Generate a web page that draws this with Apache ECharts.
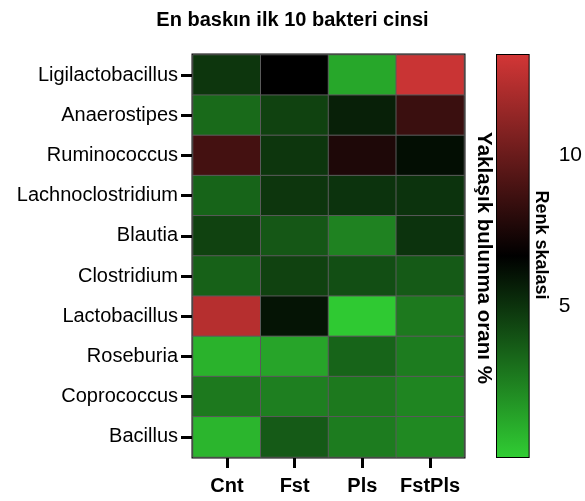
<!DOCTYPE html>
<html><head><meta charset="utf-8">
<script src="https://cdn.jsdelivr.net/npm/echarts@6/dist/echarts.min.js"></script>
<style>html,body{margin:0;padding:0;background:#fff}#c{width:585px;height:501px}</style>
</head><body><div id="c"></div>
<script>
var groups = ['Cnt', 'Fst', 'Pls', 'FstPls'];
var genera = ['Ligilactobacillus', 'Anaerostipes', 'Ruminococcus', 'Lachnoclostridium', 'Blautia', 'Clostridium', 'Lactobacillus', 'Roseburia', 'Coprococcus', 'Bacillus'];
// values per genus, in order Cnt, Fst, Pls, FstPls
var Ligilactobacillus = [4.9, 6.65, 1.2, 13.0];
var Anaerostipes = [3.2, 4.5, 5.6, 8.5];
var Ruminococcus = [8.8, 4.9, 7.6, 6.2];
var Lachnoclostridium = [3.4, 4.9, 5.0, 5.0];
var Blautia = [4.5, 3.8, 2.4, 5.0];
var Clostridium = [3.5, 4.5, 4.1, 3.7];
var Lactobacillus = [12.4, 6.0, 0.1, 2.7];
var Roseburia = [0.85, 1.3, 3.4, 2.6];
var Coprococcus = [2.7, 2.5, 2.7, 2.3];
var Bacillus = [0.75, 3.7, 2.6, 2.2];
var scaleMin = 0, scaleMax = 13.3;
var scaleTicks = [5, 10];

var rows = [Ligilactobacillus, Anaerostipes, Ruminococcus, Lachnoclostridium, Blautia, Clostridium, Lactobacillus, Roseburia, Coprococcus, Bacillus];
var data = [];
rows.forEach(function (r, i) { r.forEach(function (v, j) { data.push([j, i, v]); }); });

var GREEN = '#30cc33', BLACK = '#000000', RED = '#d23636';
var font = 'Liberation Sans, Arial, sans-serif';
var chart = echarts.init(document.getElementById('c'), null, {renderer: 'canvas'});
chart.setOption({
  backgroundColor: '#fff',
  animation: false,
  title: {text: 'En baskın ilk 10 bakteri cinsi', left: 'center', top: 5,
    textStyle: {fontFamily: font, fontWeight: 'bold', fontSize: 20, color: '#000'}},
  grid: [
    {left: 193, right: 121, top: 55, bottom: 44, show: true, borderColor: '#000', borderWidth: 3, backgroundColor: 'transparent'},
    {left: 497, right: 54, top: 55, bottom: 44, show: true, borderColor: '#000', borderWidth: 2, backgroundColor: 'transparent'}
  ],
  xAxis: [
    {type: 'category', data: groups, gridIndex: 0, position: 'bottom',
      axisLine: {show: false},
      axisTick: {show: true, alignWithLabel: true, length: 11, lineStyle: {color: '#000', width: 3}},
      axisLabel: {interval: 0, fontFamily: font, fontWeight: 'bold', fontSize: 20, color: '#000', margin: 19},
      splitLine: {show: false}},
    {type: 'category', data: ['s'], gridIndex: 1, show: false}
  ],
  yAxis: [
    {type: 'category', data: genera, gridIndex: 0, inverse: true,
      axisLine: {show: false},
      axisTick: {show: true, alignWithLabel: true, length: 12, lineStyle: {color: '#000', width: 3}},
      axisLabel: {interval: 0, fontFamily: font, fontSize: 20, color: '#000', margin: 15},
      splitLine: {show: false}},
    {type: 'value', gridIndex: 1, min: scaleMin, max: scaleMax, interval: 5, position: 'left',
      axisLine: {show: false}, axisLabel: {show: false}, splitLine: {show: false},
      axisTick: {show: true, inside: true, length: 6, lineStyle: {color: '#000', width: 2}}},
    {type: 'value', gridIndex: 1, min: scaleMin, max: scaleMax, interval: 5, position: 'right',
      axisLine: {show: false}, splitLine: {show: false},
      axisTick: {show: true, inside: true, length: 6, lineStyle: {color: '#000', width: 2}},
      axisLabel: {show: true, inside: false, margin: 30, fontFamily: font, fontSize: 21, color: '#000',
        showMinLabel: false, showMaxLabel: false,
        formatter: function (v) { return scaleTicks.indexOf(v) >= 0 ? String(v) : ''; }}}
  ],
  visualMap: {type: 'continuous', show: false, min: scaleMin, max: scaleMax, seriesIndex: 0,
    inRange: {color: [GREEN, BLACK, RED]}},
  series: [
    {type: 'heatmap', xAxisIndex: 0, yAxisIndex: 0, data: data,
      itemStyle: {borderColor: '#5a5a5a', borderWidth: 1}, emphasis: {disabled: true}},
    {type: 'bar', xAxisIndex: 1, yAxisIndex: 1, data: [scaleMax], barWidth: '100%', silent: true,
      itemStyle: {color: new echarts.graphic.LinearGradient(0, 1, 0, 0, [
        {offset: 0, color: GREEN}, {offset: 0.5, color: BLACK}, {offset: 1, color: RED}])}}
  ],
  graphic: [
    {type: 'text', x: 484, y: 258, rotation: -Math.PI / 2,
      style: {text: 'Yaklaşık bulunma oranı %', fontFamily: font, fontWeight: 'bold', fontSize: 20.5,
        fill: '#000', textAlign: 'center', textVerticalAlign: 'middle'}},
    {type: 'text', x: 541, y: 245, rotation: -Math.PI / 2,
      style: {text: 'Renk skalasi', fontFamily: font, fontWeight: 'bold', fontSize: 18,
        fill: '#000', textAlign: 'center', textVerticalAlign: 'middle'}}
  ]
});
</script></body></html>
